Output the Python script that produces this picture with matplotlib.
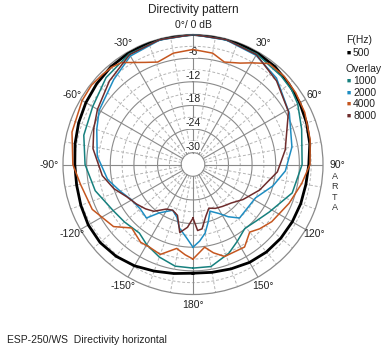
import numpy as np
import matplotlib
matplotlib.use("Agg")
import matplotlib.pyplot as plt

plt.rcParams['font.family'] = ['Liberation Sans', 'DejaVu Sans']

# 500 Hz (black)
ang_500 = [-180, -170, -160, -150, -140, -130, -120, -110, -100, -90, -80, -70, -60, -50, -40,
           -30, -20, -10, 0, 10, 20, 30, 40, 50, 60, 70, 80, 90, 100, 110, 120, 130, 140, 150,
           160, 170, 180]
db_500 = [-5.4, -4.9, -4.2, -3.3, -2.6, -2.2, -2.3, -2.7, -3.0, -3.0, -2.6, -2.1, -1.6, -1.1, -0.6,
          -0.3, -0.1, 0.0, 0.0, 0.0, -0.1, -0.3, -0.6, -1.2, -1.7, -2.3, -2.9, -3.6, -3.9, -3.9,
          -3.9, -3.9, -4.0, -4.3, -4.8, -5.2, -5.4]

# 1000 Hz (teal)
ang_1000 = [-180, -170, -160, -150, -142, -130, -120, -105, -90, -75, -60, -45, -30, -15, 0,
            15, 30, 45, 53, 60, 72, 90, 106, 122, 132, 141, 150, 158, 170, 180]
db_1000 = [-6.7, -6.8, -8.0, -9.5, -10.9, -10.3, -9.6, -7.3, -5.6, -4.3, -3.6, -1.8, -0.6, -0.2, 0.0,
           -0.2, -0.6, -1.3, -1.6, -2.3, -4.0, -5.3, -6.8, -10.2, -11.5, -12.1, -10.5, -8.7, -6.7, -6.7]

# 2000 Hz (blue)
ang_2000 = [-180, -175, -168, -163, -156, -150, -145, -139, -130, -120, -110, -100, -85, -70, -60,
            -43, -30, -15, 0, 15, 30, 44, 62, 80, 94, 105, 118, 130, 139, 146, 152, 160, 165,
            170, 175, 180]
db_2000 = [-12.0, -14.3, -16.5, -19.0, -20.3, -19.2, -18.0, -15.0, -15.5, -15.0, -13.3, -11.0, -8.6,
           -7.0, -5.5, -3.5, -1.2, -0.3, 0.0, -0.3, -1.0, -2.5, -5.3, -7.5, -9.5, -12.0, -15.0,
           -15.3, -15.0, -17.0, -18.9, -20.4, -18.0, -15.3, -13.5, -12.0]

# 4000 Hz (orange)
ang_4000 = [-180, -175, -169, -160, -152, -146, -136, -128, -114, -100, -90, -75, -60, -52, -45,
            -40, -35, -30, -25, -19, -10, 0, 10, 17, 25, 30, 37, 46, 55, 65, 78, 90, 100, 112,
            126, 134, 140, 148, 161, 167, 172, 180]
db_4000 = [-9.0, -10.0, -11.3, -8.7, -9.3, -9.2, -10.6, -7.4, -5.0, -4.0, -2.5, -1.2, -0.5, -0.3,
           -0.6, -0.8, -1.4, -3.1, -4.4, -5.5, -4.3, -3.8, -4.3, -5.8, -4.6, -3.2, -0.9, -0.8,
           -1.2, -1.7, -2.6, -3.3, -5.0, -6.7, -8.3, -9.5, -10.6, -8.3, -8.3, -10.0, -11.8, -9.0]

# 8000 Hz (dark brown)
ang_8000 = [-180, -175, -169, -163, -156, -149, -140, -133, -125, -116, -107, -97, -81, -70, -60,
            -45, -30, -15, 0, 15, 30, 45, 61, 81, 95, 111, 125, 135, 145, 153, 160, 166, 172,
            176, 180]
db_8000 = [-19.4, -17.0, -15.4, -19.5, -20.3, -19.8, -17.5, -16.5, -15.5, -14.3, -12.0, -9.8, -7.3,
           -6.2, -5.0, -3.0, -0.8, -0.2, 0.0, -0.2, -0.8, -3.0, -5.3, -9.3, -11.5, -14.9, -17.5,
           -19.2, -20.0, -20.5, -21.2, -19.5, -16.5, -16.2, -19.4]

series = [
    (ang_500, db_500, "#000000", 2.0),
    (ang_1000, db_1000, "#16807e", 1.1),
    (ang_2000, db_2000, "#1e8dc2", 1.1),
    (ang_4000, db_4000, "#c5561f", 1.1),
    (ang_8000, db_8000, "#6e2c2c", 1.1),
]
draw_order = [1, 2, 4, 3, 0]

ring_solid = [-30, -24, -18, -12, -6]
ring_dashed = [-27, -21, -15, -9, -3]
ring_labels = ["-30", "-24", "-18", "-12", "-6"]
r_min = -33

angle_ticks = [0, 30, 60, 90, 120, 150, 180, -150, -120, -90, -60, -30]
angle_labels = ["0°/ 0 dB", "30°", "60°", "90°", "120°", "150°", "180°",
                "-150°", "-120°", "-90°", "-60°", "-30°"]

W, H = 388, 350
fig = plt.figure(figsize=(W / 100, H / 100), dpi=100)
cx, cy, R = 193, 164.5, 130
ax = fig.add_axes([(cx - R) / W, (H - cy - R) / H, 2 * R / W, 2 * R / H], projection="polar")
ax.set_theta_zero_location("N")
ax.set_theta_direction(-1)
ax.set_ylim(r_min, 0)
ax.set_xticks([])
ax.set_yticks([])
ax.grid(False)
ax.spines["polar"].set_color("#8a8a8a")
ax.spines["polar"].set_linewidth(0.9)

full = np.linspace(0, 2 * np.pi, 721)
for r in ring_solid:
    ax.plot(full, np.full_like(full, r), color="#8a8a8a", lw=0.8, zorder=1)
for r in ring_dashed:
    ax.plot(full, np.full_like(full, r), color="#b5b5b5", lw=0.7, ls=(0, (3, 2)), zorder=1)
for a in range(0, 360, 10):
    t = np.deg2rad(a)
    if a % 30 == 0:
        ax.plot([t, t], [-30, 0], color="#8a8a8a", lw=0.8, zorder=1)
    else:
        ax.plot([t, t], [-30, 0], color="#b5b5b5", lw=0.7, ls=(0, (3, 2)), zorder=1)

for r, lab in zip(ring_solid, ring_labels):
    ax.text(0, r + 1.5, lab, ha="center", va="center", fontsize=7.5, color="#222222", zorder=2,
            bbox=dict(facecolor="white", edgecolor="none", pad=0.3))

for i in draw_order:
    ang, db, col, lw = series[i]
    ax.plot(np.deg2rad(ang), db, color=col, lw=lw, zorder=3 + i * 0.1)

for a, lab in zip(angle_ticks, angle_labels):
    rp = 144 if abs(a) == 90 else 140
    t = np.deg2rad(a)
    x = 0.5 + 0.5 * rp / R * np.sin(t)
    y = 0.5 + 0.5 * rp / R * np.cos(t)
    ax.text(x, y, lab, transform=ax.transAxes, ha="center", va="center", fontsize=7.5,
            color="#222222", clip_on=False)

fig.text(335 / W, 1 - 192 / H, "A\nR\nT\nA", ha="center", va="center", fontsize=6.5,
         color="#333333", linespacing=1.15)

fig.text(193 / W, 1 - 10 / H, "Directivity pattern", ha="center", va="center", fontsize=8.5,
         color="#222222")
fig.text(7 / W, 1 - 340 / H, "ESP-250/WS  Directivity horizontal", ha="left", va="center",
         fontsize=7.5, color="#222222")

# legend on the right
fig.text(346 / W, 1 - 40 / H, "F(Hz)", ha="left", va="center", fontsize=7.5, color="#222222")
fig.text(346 / W, 1 - 69 / H, "Overlay", ha="left", va="center", fontsize=7.5, color="#222222")
leg_y = [53, 81, 93, 104, 116]
leg_txt = ["500", "1000", "2000", "4000", "8000"]
for yy, txt, s in zip(leg_y, leg_txt, series):
    fig.text(347 / W, 1 - yy / H, "■", ha="left", va="center", fontsize=5, color=s[2])
    fig.text(353 / W, 1 - yy / H, txt, ha="left", va="center", fontsize=7.5, color="#222222")

fig.savefig("out.png", dpi=100)
